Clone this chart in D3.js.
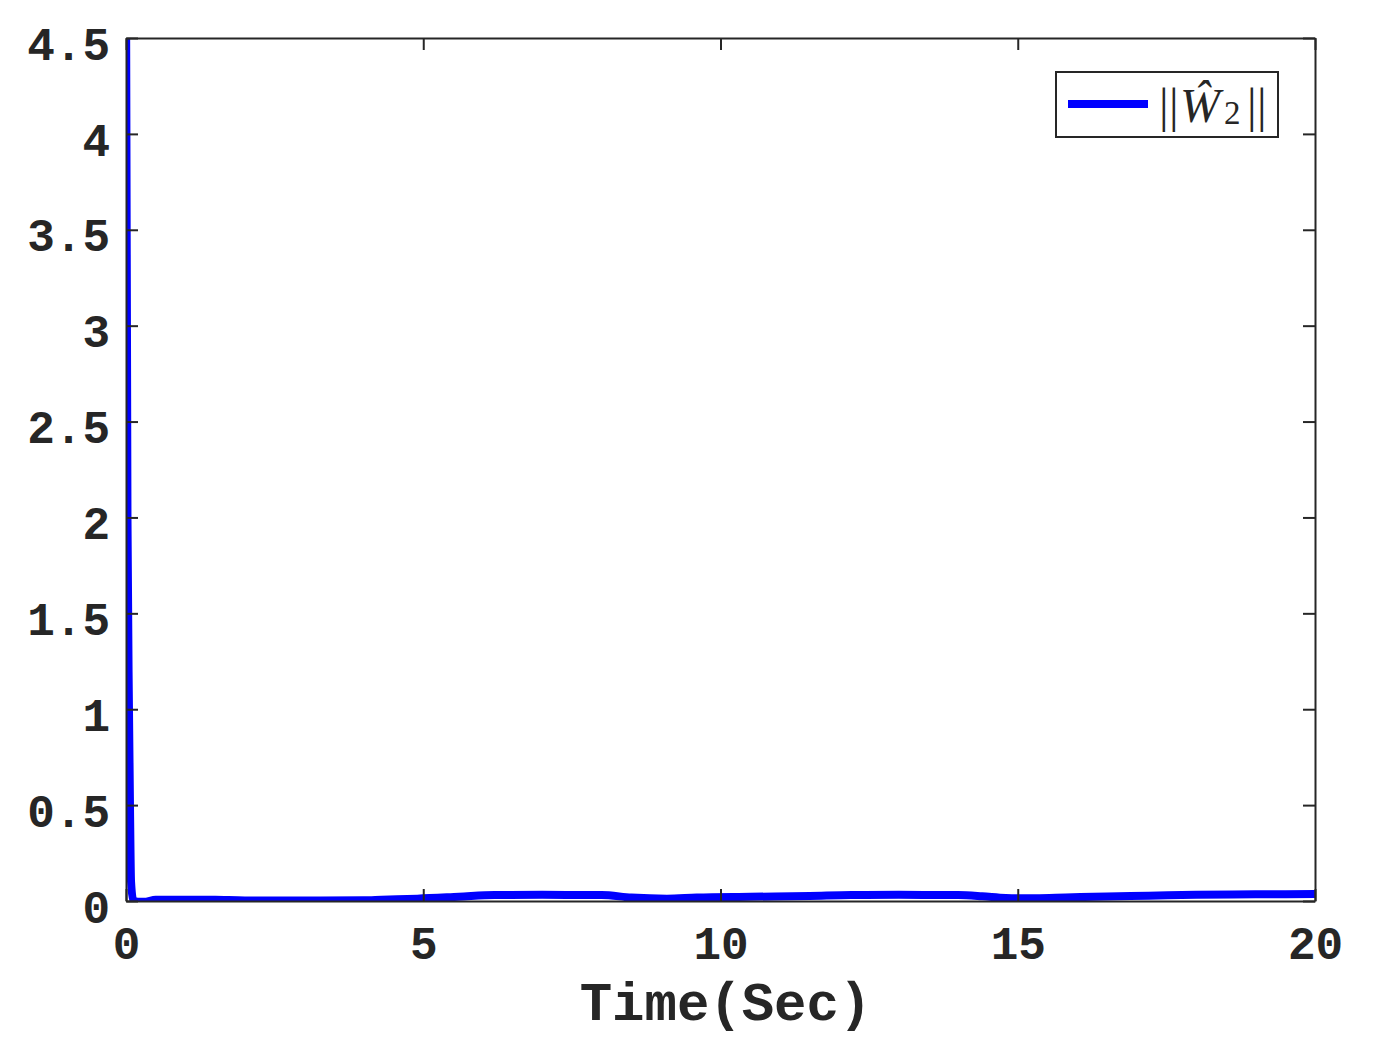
<!DOCTYPE html>
<html>
<head>
<meta charset="utf-8">
<script src="https://cdn.jsdelivr.net/npm/d3@7"></script>
<style>
  body { margin: 0; background: #fff; }
  text { fill: #262626; }
</style>
</head>
<body>
<svg id="chart"></svg>
<script>
// ||W2|| norm over time
var times  = [0, 0.025, 0.05, 0.067, 0.085, 0.12, 0.2, 0.3, 0.5, 1, 1.5, 2, 3, 4, 4.3, 4.9, 5.6, 6.2, 7, 8, 8.5, 9.1, 9.6, 10.5, 11.5, 12.2, 13, 14, 14.4, 14.8, 15.3, 15.8, 16.5, 17.2, 18, 19, 20];
var values = [4.8, 2.0, 1.0, 0.5, 0.1, 0.005, -0.004, -0.004, 0.006, 0.007, 0.006, 0.003, 0.002, 0.004, 0.007, 0.012, 0.022, 0.031, 0.032, 0.031, 0.018, 0.012, 0.018, 0.022, 0.026, 0.031, 0.032, 0.031, 0.025, 0.016, 0.014, 0.018, 0.024, 0.028, 0.033, 0.035, 0.036];

var xTicks = [0, 5, 10, 15, 20];
var yTicks = [0, 0.5, 1, 1.5, 2, 2.5, 3, 3.5, 4, 4.5];
var xLabel = "Time(Sec)";

var width = 1374, height = 1038;
var margin = {left: 126, right: 59, top: 38, bottom: 137};
var tickLen = 12;
var axisColor = "#262626";
var tickFont = "'Liberation Mono', 'Courier New', monospace";

var svg = d3.select("#chart")
    .attr("width", width)
    .attr("height", height);

var x = d3.scaleLinear().domain([0, 20]).range([margin.left, width - margin.right]);
var y = d3.scaleLinear().domain([0, 4.5]).range([height - margin.bottom, margin.top]);

svg.append("clipPath").attr("id", "plot-clip")
  .append("rect")
    .attr("x", x(0)).attr("y", y(4.5))
    .attr("width", x(20) - x(0)).attr("height", y(0) - y(4.5));

// data line
var line = d3.line()
    .x(function(d, i) { return x(times[i]); })
    .y(function(d) { return y(d); })
    .curve(d3.curveMonotoneX);

svg.append("path")
    .datum(values)
    .attr("clip-path", "url(#plot-clip)")
    .attr("d", line)
    .attr("fill", "none")
    .attr("stroke", "#0000ff")
    .attr("stroke-width", 8)
    .attr("stroke-linejoin", "round");

// axes, ticks inside on all four sides
var bottomAxis = d3.axisBottom(x).tickValues(xTicks).tickSizeInner(-tickLen).tickSizeOuter(0).tickPadding(30).tickFormat(d3.format("d"));
var topAxis = d3.axisTop(x).tickValues(xTicks).tickSizeInner(-tickLen).tickSizeOuter(0).tickFormat("");
var leftAxis = d3.axisLeft(y).tickValues(yTicks).tickSizeInner(-tickLen).tickSizeOuter(0).tickPadding(16).tickFormat(d3.format("~g"));
var rightAxis = d3.axisRight(y).tickValues(yTicks).tickSizeInner(-tickLen).tickSizeOuter(0).tickFormat("");

function styleAxis(g) {
  g.select(".domain").attr("stroke", axisColor).attr("stroke-width", 2);
  g.selectAll(".tick line").attr("stroke", axisColor).attr("stroke-width", 2);
  g.selectAll(".tick text")
    .attr("fill", axisColor)
    .style("font-family", tickFont)
    .style("font-weight", "bold")
    .style("font-size", "46px");
}

svg.append("g").attr("transform", "translate(0," + y(0) + ")").call(bottomAxis).call(styleAxis)
  .selectAll(".tick text").attr("dy", "0.6em");
svg.append("g").attr("transform", "translate(0," + y(4.5) + ")").call(topAxis).call(styleAxis);
svg.append("g").attr("transform", "translate(" + x(0) + ",0)").call(leftAxis).call(styleAxis)
  .selectAll(".tick text").attr("dy", "0.46em");
svg.append("g").attr("transform", "translate(" + x(20) + ",0)").call(rightAxis).call(styleAxis);

// x axis label
svg.append("text")
    .attr("x", (x(0) + x(20)) / 2 + 5)
    .attr("y", 1020)
    .attr("text-anchor", "middle")
    .style("font-family", tickFont)
    .style("font-weight", "bold")
    .style("font-size", "54px")
    .text(xLabel);

// legend
var legend = svg.append("g");
legend.append("rect")
    .attr("x", 1056).attr("y", 72)
    .attr("width", 222).attr("height", 65)
    .attr("fill", "#fff")
    .attr("stroke", axisColor)
    .attr("stroke-width", 2);
legend.append("line")
    .attr("x1", 1068).attr("x2", 1148)
    .attr("y1", 104).attr("y2", 104)
    .attr("stroke", "#0000ff")
    .attr("stroke-width", 8);
var lt = legend.append("text")
    .attr("y", 122)
    .style("font-family", "'Liberation Serif', 'Times New Roman', serif")
    .style("font-size", "48px")
    .attr("fill", "#000");
lt.append("tspan").attr("x", 1159).text("|");
lt.append("tspan").attr("x", 1169).text("|");
lt.append("tspan").attr("x", 1180).style("font-style", "italic").text("W\u0302");
lt.append("tspan").attr("x", 1224).attr("dy", 2).style("font-size", "33px").text("2");
lt.append("tspan").attr("x", 1247).attr("dy", -2).text("|");
lt.append("tspan").attr("x", 1257).text("|");
</script>
</body>
</html>
